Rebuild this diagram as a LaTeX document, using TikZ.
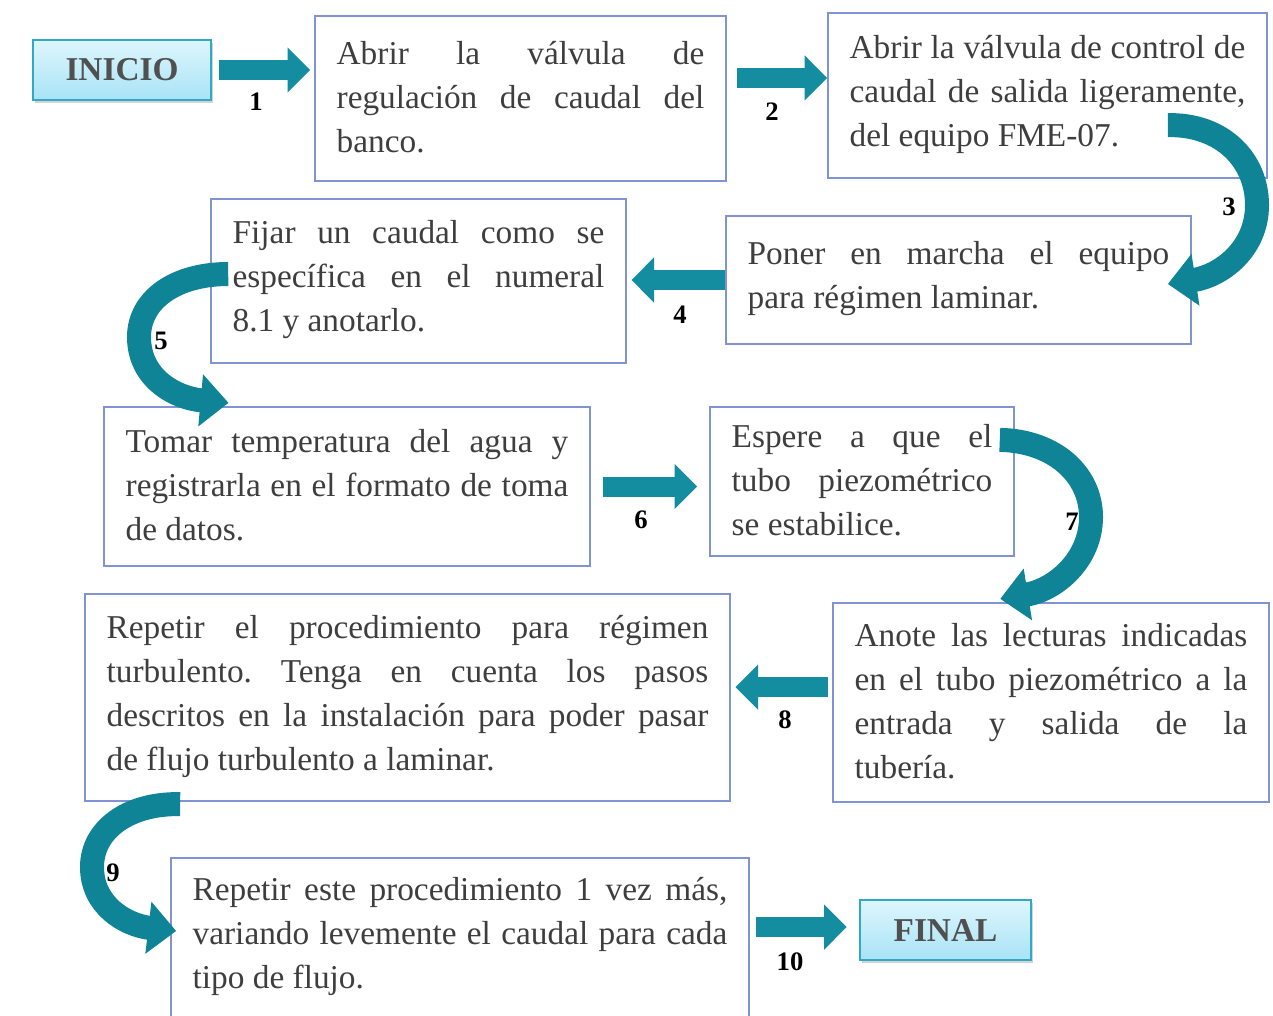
\documentclass[tikz,border=0pt]{standalone}
\usepackage{fontspec}
\setmainfont{Liberation Serif}
\usepackage{tikz}
\usetikzlibrary{arrows.meta,shadows}
\hyphenpenalty=10000
\tolerance=9999
\frenchspacing

\tikzset{
  paso/.style={draw={rgb,255:red,128;green,147;blue,212}, line width=1.7pt, inner xsep=16pt, inner ysep=0pt,
    align=justify, text={rgb,255:red,62;green,62;blue,62}, font=\fontsize{25}{33}\selectfont,
    execute at end node={\par\vspace{2pt}}},
  extremo/.style={draw={rgb,255:red,48;green,170;blue,196}, line width=2pt,
    top color={rgb,255:red,222;green,246;blue,253}, bottom color={rgb,255:red,168;green,227;blue,246},
    minimum height=45pt, inner sep=0pt, text={rgb,255:red,80;green,80;blue,80},
    font=\bfseries\fontsize{25}{30}\selectfont,
    drop shadow={opacity=0.35, shadow xshift=1.5pt, shadow yshift=-2.5pt}},
  flecha/.style={draw={rgb,255:red,19;green,141;blue,159}, line width=15pt,
    -{Triangle[length=17pt,width=33pt]}},
  curva/.style={draw={rgb,255:red,15;green,132;blue,150}, line width=18pt,
    -{Triangle[length=21pt,width=38pt]}},
  numero/.style={inner sep=0pt, font=\bfseries\fontsize{20}{20}\selectfont}
}

\begin{document}
\begin{tikzpicture}[x=0.75pt,y=0.75pt,yscale=-1,xscale=1]
\useasboundingbox (0,0) rectangle (1273,1015);

% Inicio y final
\node[extremo, minimum width=133.5pt] (inicio) at (122,70) {INICIO};
\node[extremo, minimum width=128.25pt] (final) at (945.5,930) {FINAL};

% Pasos
\node[paso, text width=275.75pt, minimum height=123.75pt] (b1) at (520.5,98.5)
  {Abrir la válvula de\linebreak regulación de caudal del\linebreak banco.};
\node[paso, text width=296.75pt, minimum height=123.75pt] (b2) at (1047.5,95.5)
  {Abrir la válvula de control de\linebreak caudal de salida ligeramente,\linebreak del equipo FME-07.};
\node[paso, text width=316.25pt, minimum height=96pt] (b3) at (958.5,280)
  {Poner en marcha el equipo\linebreak para régimen laminar.};
\node[paso, text width=278.75pt, minimum height=123pt] (b4) at (418.5,281)
  {Fijar un caudal como se\linebreak específica en el numeral\linebreak 8.1 y anotarlo.};
\node[paso, text width=332pt, minimum height=119.25pt] (b5) at (347,486.5)
  {Tomar temperatura del agua y\linebreak registrarla en el formato de toma\linebreak de datos.};
\node[paso, text width=195.5pt, minimum height=111.75pt] (b6) at (862,481.5)
  {Espere a que el\linebreak tubo piezométrico\linebreak se estabilice.};
\node[paso, text width=294.5pt, minimum height=149.25pt] (b7) at (1051,702.5)
  {Anote las lecturas indicadas\linebreak en el tubo piezométrico a la\linebreak entrada y salida de la\linebreak tubería.};
\node[paso, text width=451.25pt, minimum height=155.25pt] (b8) at (407.5,697.5)
  {Repetir el procedimiento para régimen\linebreak turbulento. Tenga en cuenta los pasos\linebreak descritos en la instalación para poder pasar\linebreak de flujo turbulento a laminar.};
\node[paso, text width=401pt, minimum height=120pt] (b9) at (460,938)
  {Repetir este procedimiento 1 vez más,\linebreak variando levemente el caudal para cada\linebreak tipo de flujo.};

% Flechas rectas
\coordinate (s2) at ([yshift=-15.4pt]b1.east);
\coordinate (s8) at ([yshift=-11.6pt]b7.west);
\coordinate (s10) at ([yshift=-8.2pt]b9.east);
\draw[flecha, shorten <=5pt, shorten >=3pt] (inicio.east) -- (inicio.east -| b1.west);
\draw[flecha, shorten <=7.5pt] (s2) -- (s2 -| b2.west);
\draw[flecha, shorten >=3.5pt] (b3.west) -- (b3.west -| b4.east);
\draw[flecha, shorten <=9pt, shorten >=9pt] (b5.east) -- (b5.east -| b6.west);
\draw[flecha, shorten <=3pt, shorten >=3.5pt] (s8) -- (s8 -| b8.east);
\draw[flecha, shorten <=4.5pt, shorten >=9pt] (s10) -- (s10 -| final.west);

% Flechas curvas
\coordinate (c3a) at ([xshift=-75pt,yshift=-40.5pt]b2.south east);
\coordinate (c3b) at ([xshift=-18pt,yshift=3pt]b3.east);
\coordinate (c5a) at ([xshift=13.5pt,yshift=-5.25pt]b4.west);
\coordinate (c5b) at ([xshift=94pt,yshift=-2.25pt]b5.north west);
\coordinate (c7a) at ([xshift=-11.25pt,yshift=25.5pt]b6.north east);
\coordinate (c7b) at ([xshift=126pt,yshift=-2.25pt]b7.north west);
\coordinate (c9a) at ([xshift=72pt,yshift=1.5pt]b8.south west);
\coordinate (c9b) at ([xshift=4.5pt,yshift=-5.25pt]b9.west);
\draw[curva] (c3a) .. controls (1222,124) and (1257,160) .. (1257,205) .. controls (1257,250) and (1220,276) .. (c3b);
\draw[curva] (c5a) .. controls (175,274) and (139,300) .. (139,337) .. controls (139,378) and (175,398) .. (c5b);
\draw[curva] (c7a) .. controls (1055,441) and (1091,475) .. (1091,517) .. controls (1091,560) and (1055,590) .. (c7b);
\draw[curva] (c9a) .. controls (128,803) and (92,830) .. (92,867) .. controls (92,905) and (125,925) .. (c9b);

% Numeros
\node[numero] (n1) at (256,102) {1};
\node[numero] (n2) at (772,112) {2};
\node[numero] (n3) at (1229,207) {3};
\node[numero] (n4) at (680,315) {4};
\node[numero] (n5) at (161,341) {5};
\node[numero] (n6) at (641,520) {6};
\node[numero] (n7) at (1072,522) {7};
\node[numero] (n8) at (785,720) {8};
\node[numero] (n9) at (113,873) {9};
\node[numero] (n10) at (790,962) {10};
\end{tikzpicture}
\end{document}
